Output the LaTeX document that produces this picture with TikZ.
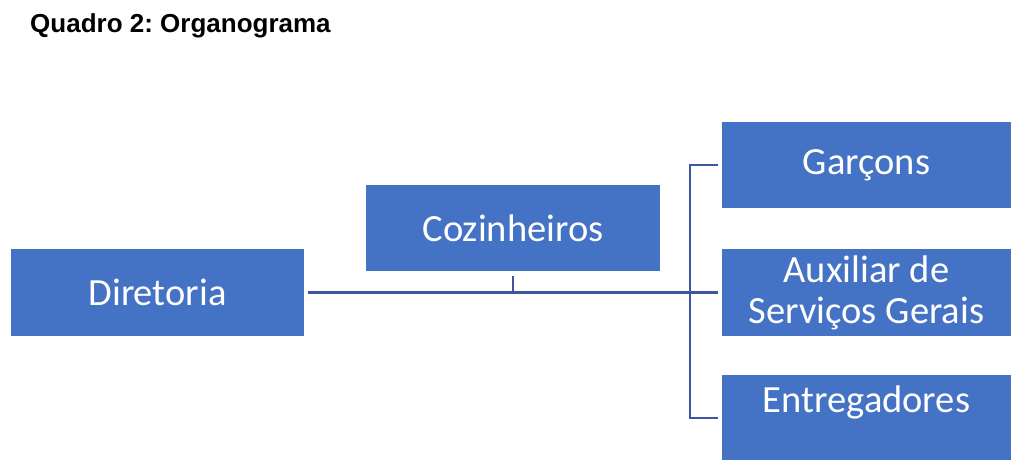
\documentclass[tikz,border=0pt]{standalone}
\usepackage{fontspec}
\setmainfont{Carlito}
\newfontfamily\titlefont{Liberation Sans}
\definecolor{boxblue}{RGB}{68,114,196}
\definecolor{lineblue}{RGB}{62,86,160}

\begin{document}
\begin{tikzpicture}[x=1pt,y=-1pt]
\tikzset{orgbox/.style={fill=boxblue,text=white,inner sep=0pt,minimum width=290pt,minimum height=86pt,align=center,font=\fontsize{38.5}{41}\selectfont},
  orgline/.style={draw=lineblue,line width=2.5pt}}
\useasboundingbox (0,0) rectangle (1011,459);
\node[anchor=base west,inner sep=0pt,font=\titlefont\bfseries\fontsize{26}{30}\selectfont] (title) at (30,32) {\frenchspacing Quadro 2: Organograma};
\node[orgbox,minimum width=293pt,minimum height=87pt] (dir) at (157.5,292.5) {Diretoria};
\node[orgbox,minimum width=294pt] (coz) at (513,228) {Cozinheiros};
\node[orgbox,minimum width=289pt] (gar) at (866.5,165) {Garçons};
\node[orgbox,minimum width=289pt,minimum height=87pt] (aux) at (866.5,292.5) {Auxiliar de\\Serviços Gerais};
\node[orgbox,minimum width=289pt,text depth=38pt] (ent) at (866.5,418) {Entregadores};
\coordinate (bus) at (690,292.5);
%
\draw[orgline,shorten <=4pt,shorten >=4pt] (dir.east) -- (aux.west);
\draw[orgline,shorten <=5pt] (coz.south) -- (coz.south |- dir.east);
\draw[orgline] ([xshift=-4pt]gar.west) -- (gar.west -| bus) -- (ent.west -| bus) -- ([xshift=-4pt]ent.west);
\end{tikzpicture}
\end{document}
